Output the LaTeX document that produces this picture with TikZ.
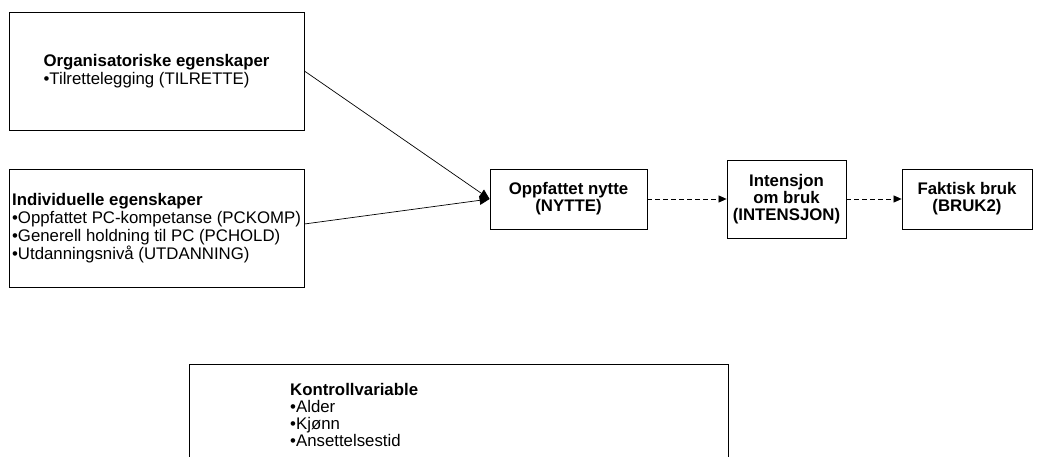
\documentclass[tikz,border=0pt]{standalone}
\usepackage{fontspec}
\setmainfont{Liberation Sans}
\usetikzlibrary{arrows.meta,positioning}

\begin{document}
\begin{tikzpicture}[
  x=1pt, y=-1pt,
  every node/.style={font=\fontsize{16.8}{18}\selectfont},
  box/.style={draw=black, line width=0.8pt, fill=white, inner sep=2pt},
  grp/.style={box, minimum width=295pt, minimum height=118pt, align=left},
  var/.style={box, align=center, font=\fontsize{16.8}{17}\selectfont\bfseries},
  arr/.style={-{Triangle[length=10pt,width=9pt]}, line width=0.7pt},
  darr/.style={-{Triangle[length=8pt,width=7pt]}, line width=0.7pt, dash pattern=on 5pt off 3pt}
]
\useasboundingbox (0,0) rectangle (1039,457);
% input groups
\node[grp] (org) at (156.5,71) {\textbf{Organisatoriske egenskaper}\\
  •Tilrettelegging (TILRETTE)};
\node[grp] (ind) at (156.5,228) {\textbf{Individuelle egenskaper}\\
  •Oppfattet PC-kompetanse (PCKOMP)\\
  •Generell holdning til PC (PCHOLD)\\
  •Utdanningsnivå (UTDANNING)};
% model chain
\node[var, minimum width=157pt, minimum height=60pt] (nytte)  at (568.5,199) {Oppfattet nytte\\(NYTTE)};
\node[var, minimum width=119pt, minimum height=78pt] (intens) at (786.5,199) {Intensjon\\om bruk\\(INTENSJON)};
\node[var, minimum width=130pt, minimum height=60pt] (bruk)   at (967,199)   {Faktisk bruk\\(BRUK2)};
% control variables (box runs off the page)
\node[box, minimum width=539pt, minimum height=130pt, anchor=north west] (ctrl) at (189,364) {};
\node[anchor=north west, align=left, inner sep=0pt, font=\fontsize{16.8}{17}\selectfont] (ctrltxt) at (290,383)
  {\textbf{Kontrollvariable}\\ •Alder\\ •Kjønn\\ •Ansettelsestid};
\draw[arr] (org.east) -- (nytte.west);
\draw[arr] ([yshift=4pt]ind.east) -- (nytte.west);
\draw[darr] (nytte) -- (intens);
\draw[darr] (intens) -- (bruk);
\end{tikzpicture}
\end{document}
